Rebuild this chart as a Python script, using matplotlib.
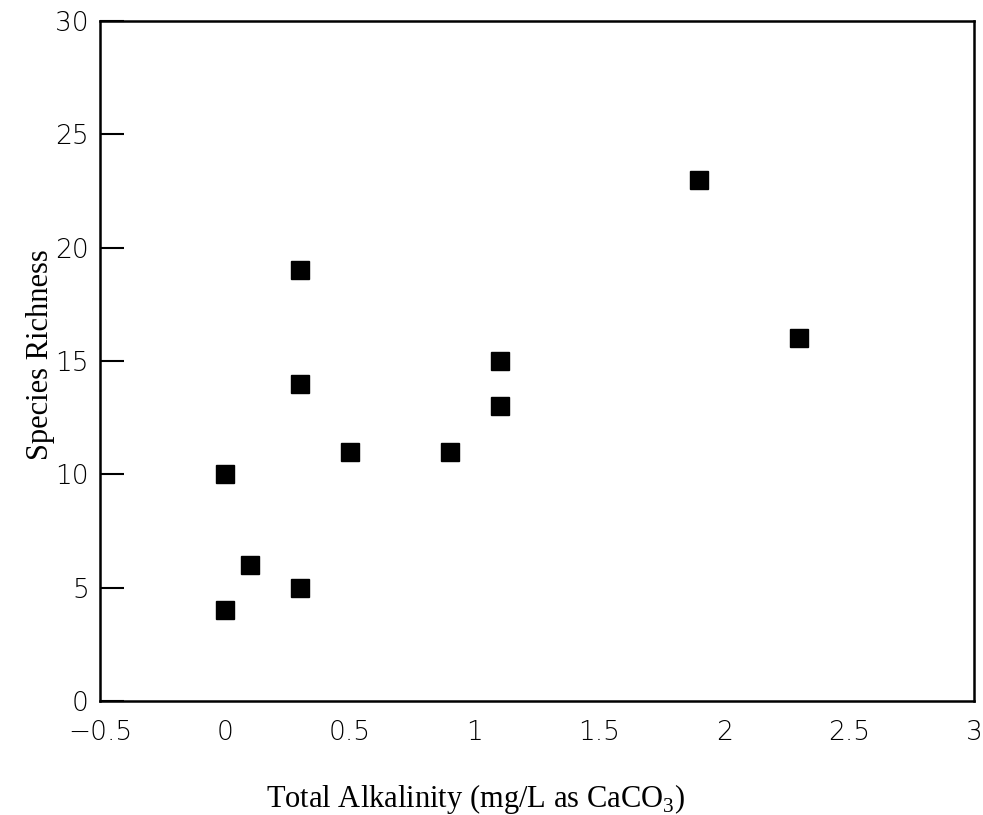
import matplotlib.pyplot as plt

plt.rcParams['mathtext.fontset'] = 'custom'
plt.rcParams['mathtext.rm'] = 'Liberation Serif'

# alkalinity (mg/L as CaCO3) vs species richness
alkalinity = [0, 0, 0.1, 0.3, 0.3, 0.3, 0.5, 0.9, 1.1, 1.1, 1.9, 2.3]
richness = [10, 4, 6, 19, 14, 5, 11, 11, 15, 13, 23, 16]

xticks = [-0.5, 0, 0.5, 1, 1.5, 2, 2.5, 3]
xticklabels = ['\u22120.5', '0', '0.5', '1', '1.5', '2', '2.5', '3']
yticks = [0, 5, 10, 15, 20, 25, 30]

fig = plt.figure(figsize=(9.83, 8.15), dpi=100)
ax = fig.add_axes([0.1017, 0.1399, 0.8893, 0.8343])

ax.plot(alkalinity, richness, 's', color='black', markersize=13, clip_on=False)

ax.set_xlim(-0.5, 3)
ax.set_ylim(0, 30)
ax.set_xticks(xticks)
ax.set_xticklabels(xticklabels)
ax.set_yticks(yticks)

ax.tick_params(axis='x', length=0, pad=14, labelsize=19)
ax.tick_params(axis='y', direction='in', length=17, width=1.5, pad=8, labelsize=19)
for lbl in ax.get_xticklabels() + ax.get_yticklabels():
    lbl.set_fontfamily('DejaVu Sans')
    lbl.set_fontweight('light')

for s in ax.spines.values():
    s.set_linewidth(1.8)

ax.set_xlabel('Total Alkalinity (mg/L as CaCO$_\\mathrm{3}$)', fontfamily='Liberation Serif',
              fontsize=22, labelpad=26)
ax.xaxis.label.set_x(0.43)
ax.set_ylabel('Species Richness', fontfamily='Liberation Serif', fontsize=22)
ax.yaxis.set_label_coords(-0.052, 0.51)

fig.savefig('out.png', dpi=100)
